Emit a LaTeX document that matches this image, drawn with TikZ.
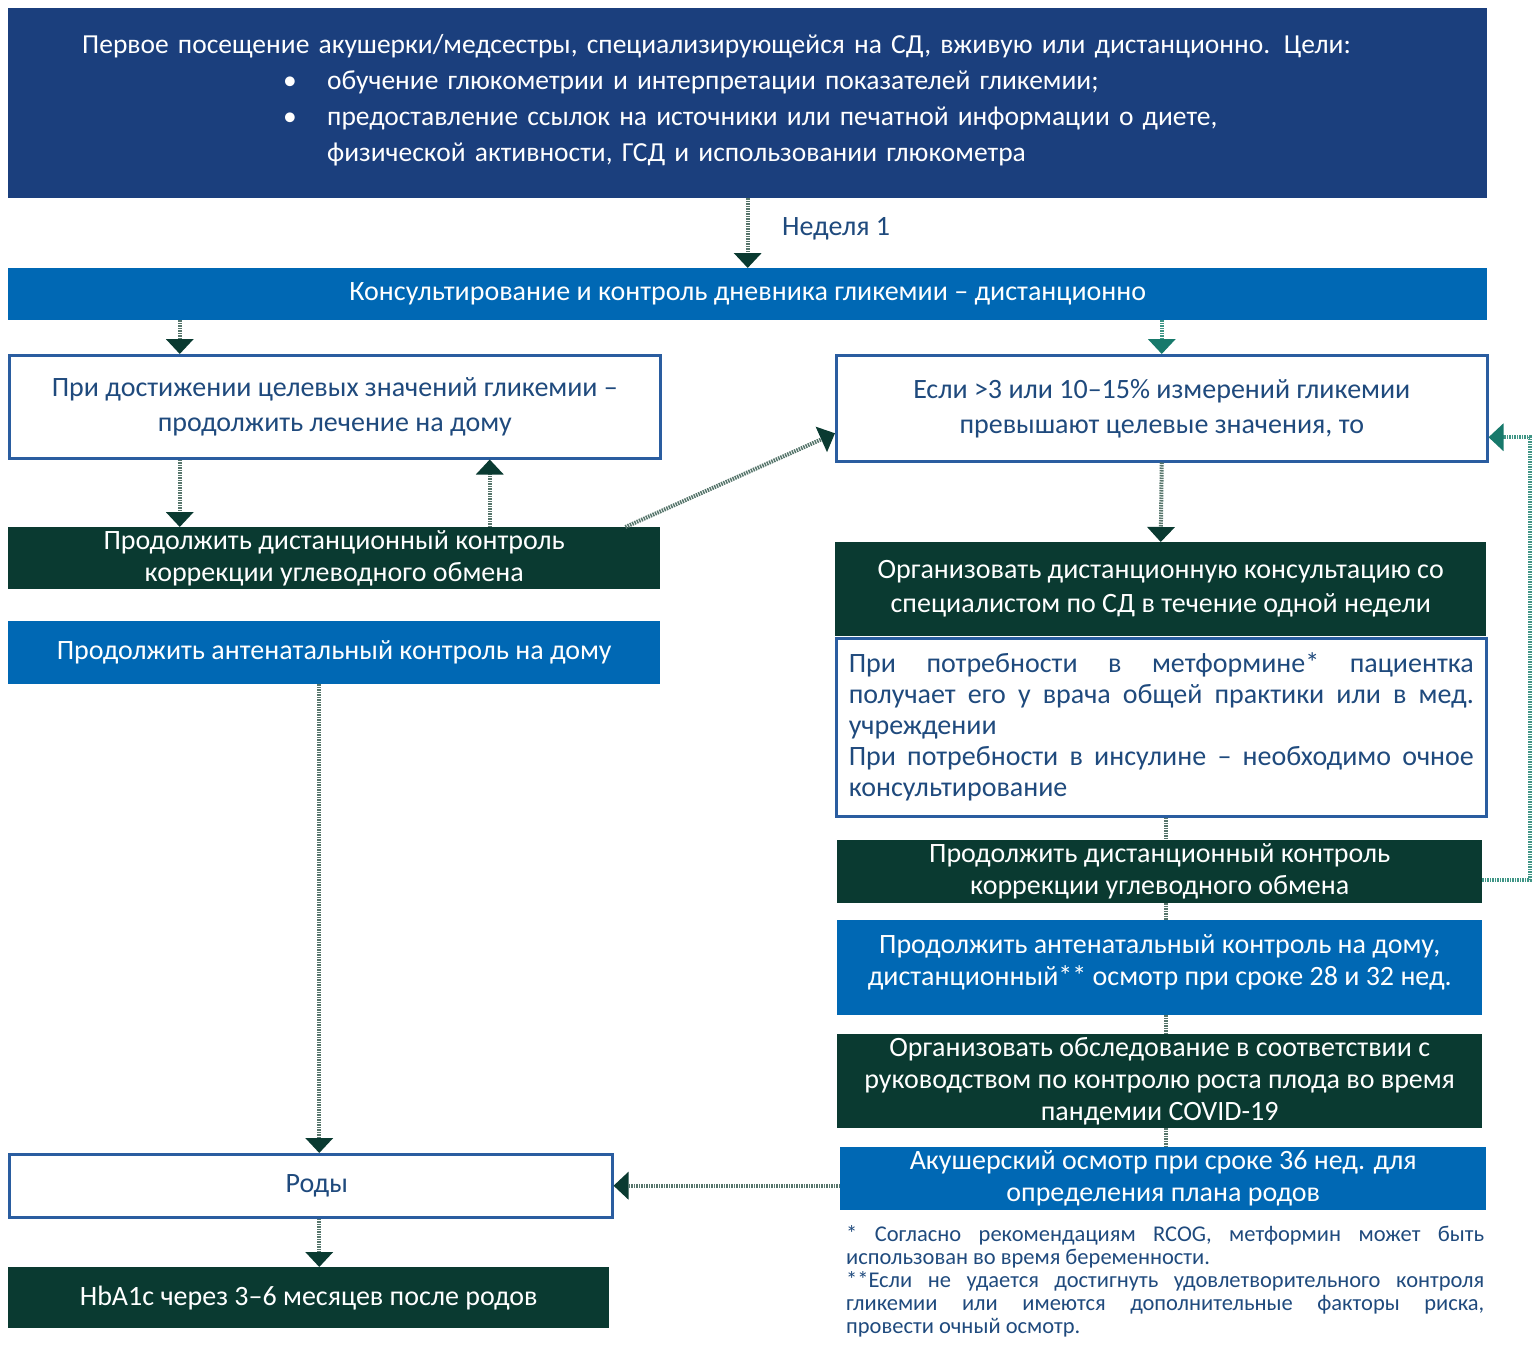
\documentclass[tikz,border=0pt]{standalone}
\usepackage{fontspec}
\setmainfont{Carlito}
\usetikzlibrary{arrows.meta, positioning}
\definecolor{navy}{HTML}{1B3F7D}
\definecolor{midblue}{HTML}{0068B4}
\definecolor{dkgreen}{HTML}{0A3A31}
\definecolor{txtblue}{HTML}{1F4A7D}
\definecolor{frameblue}{HTML}{2A5DA0}
\definecolor{tealtip}{HTML}{17796B}
\definecolor{dotgrey}{HTML}{56756B}
\definecolor{dotteal}{HTML}{3F9585}

\tikzset{
  box/.style={anchor=north west, inner sep=0pt, align=center, font=\fontsize{28}{32}\selectfont},
  navybox/.style={box, fill=navy, text=white},
  bluebox/.style={box, fill=midblue, text=white},
  darkbox/.style={box, fill=dkgreen, text=white},
  whitebox/.style={box, fill=white, draw=frameblue, line width=2.5pt, text=txtblue, font=\fontsize{28}{35}\selectfont},
  link/.style={draw=dotgrey, line width=4pt, dash pattern=on 1.5pt off 1pt, -{Triangle[width=27pt,length=15pt,color=dkgreen]}},
  tlink/.style={link, draw=dotteal, -{Triangle[width=27pt,length=15pt,color=tealtip]}},
  joint/.style={draw=dotgrey, line width=4pt, dash pattern=on 1.5pt off 1pt}
}

\begin{document}
\begin{tikzpicture}[x=1pt, y=-1pt]
\useasboundingbox (0,0) rectangle (1539,1358);

\node[navybox, minimum width=1479pt, minimum height=190pt, text width=1331pt, inner xsep=74pt, align=left,
  font=\fontsize{27.5}{36}\selectfont] (visit) at (8,8)
  {Первое посещение акушерки/медсестры, специализирующейся на СД, вживую или дистанционно. Цели:\\
   \hspace*{201pt}\makebox[44pt][l]{\textbullet}обучение глюкометрии и интерпретации показателей гликемии;\\
   \hspace*{201pt}\makebox[44pt][l]{\textbullet}предоставление ссылок на источники или печатной информации о диете,\\
   \hspace*{245pt}физической активности, ГСД и использовании глюкометра\\[-26pt]\mbox{}};
\node[bluebox, minimum width=1479pt, minimum height=52pt] (consult) at (8,268)
  {Консультирование и контроль дневника гликемии – дистанционно};
\node[anchor=west, text=txtblue, font=\fontsize{28}{30}\selectfont, inner sep=0pt] (week) at (782,229) {Неделя 1};

\node[whitebox, minimum width=651pt, minimum height=103pt] (goal) at (8,354)
  {При достижении целевых значений гликемии –\\продолжить лечение на дому};
\node[darkbox, minimum width=652pt, minimum height=62pt] (remoteL) at (8,527)
  {Продолжить дистанционный контроль\\коррекции углеводного обмена};
\node[bluebox, minimum width=652pt, minimum height=63pt] (antenatalL) at (8,621)
  {Продолжить антенатальный контроль на дому};
\node[whitebox, minimum width=603pt, minimum height=63pt] (birth) at (8,1153) {\hspace*{12pt}Роды};
\node[darkbox, minimum width=601pt, minimum height=61pt] (hba) at (8,1267)
  {HbA1c через 3–6 месяцев после родов};

\node[whitebox, minimum width=651pt, minimum height=106pt] (above) at (835,354)
  {Если >3 или 10–15\% измерений гликемии\\превышают целевые значения, то};
\node[darkbox, minimum width=651pt, minimum height=94pt, font=\fontsize{28}{34}\selectfont] (consultR) at (835,542)
  {Организовать дистанционную консультацию со\\специалистом по СД в течение одной недели};
\node[whitebox, minimum width=650pt, minimum height=178pt, text width=625pt, align=justify,
  font=\fontsize{28}{31}\selectfont] (drugs) at (835,637)
  {\hyphenpenalty=10000 При потребности в метформине* пациентка\linebreak
   получает его у врача общей практики или в мед.\linebreak
   учреждении\\
   При потребности в инсулине – необходимо очное\linebreak
   консультирование};
\node[darkbox, minimum width=645pt, minimum height=63pt] (remoteR) at (837,840)
  {Продолжить дистанционный контроль\\коррекции углеводного обмена};
\node[bluebox, minimum width=645pt, minimum height=95pt] (antenatalR) at (837,920)
  {Продолжить антенатальный контроль на дому,\\дистанционный** осмотр при сроке 28 и 32 нед.\\[-17pt]\mbox{}};
\node[darkbox, minimum width=645pt, minimum height=94pt] (growth) at (837,1034)
  {Организовать обследование в соответствии с\\руководством по контролю роста плода во время\\пандемии COVID-19};
\node[bluebox, minimum width=646pt, minimum height=63pt] (obstet) at (840,1147)
  {Акушерский осмотр при сроке 36 нед. для\\определения плана родов};
\node[anchor=north west, inner sep=0pt, text width=638pt, align=justify, text=txtblue,
  font=\fontsize{22.5}{23}\selectfont] (notes) at (846,1225)
  {\hyphenpenalty=10000 * Согласно рекомендациям RCOG, метформин может быть\linebreak
   использован во время беременности.\\
   {}**Если не удается достигнуть удовлетворительного контроля\linebreak
   гликемии или имеются дополнительные факторы риска,\linebreak
   провести очный осмотр.};

\draw[link] (visit.south) -- (consult.north);
\draw[link] ([xshift=-155pt]goal.north |- consult.south) -- ([xshift=-155pt]goal.north);
\draw[tlink] (above.north |- consult.south) -- (above.north);
\draw[link] ([xshift=-155pt]goal.south) -- ([xshift=-155pt]goal.south |- remoteL.north);
\draw[link] ([xshift=155pt]goal.south |- remoteL.north) -- ([xshift=155pt]goal.south);
\draw[link] ([xshift=-35pt]remoteL.north east) -- ([yshift=-25pt]above.west);
\draw[link] (above.south) -- (consultR.north);
\draw[joint] ([xshift=5pt]drugs.south) -- ([xshift=5pt]drugs.south |- remoteR.north);
\draw[joint] ([xshift=5pt]drugs.south |- remoteR.south) -- ([xshift=5pt]drugs.south |- antenatalR.north);
\draw[joint] ([xshift=5pt]drugs.south |- antenatalR.south) -- ([xshift=5pt]drugs.south |- growth.north);
\draw[joint] ([xshift=5pt]drugs.south |- growth.south) -- ([xshift=5pt]drugs.south |- obstet.north);
\draw[tlink] ([yshift=-8pt]remoteR.east) -- ++(48,0) |- ([yshift=-29pt]above.east);
\draw[link] ([xshift=8.5pt]birth.north |- antenatalL.south) -- ([xshift=8.5pt]birth.north);
\draw[link] ([xshift=8.5pt]birth.south) -- ([xshift=8.5pt]birth.south |- hba.north);
\draw[link] ([yshift=-7pt]obstet.west) -- ([yshift=-7pt]obstet.west -| birth.east);
\end{tikzpicture}
\end{document}
